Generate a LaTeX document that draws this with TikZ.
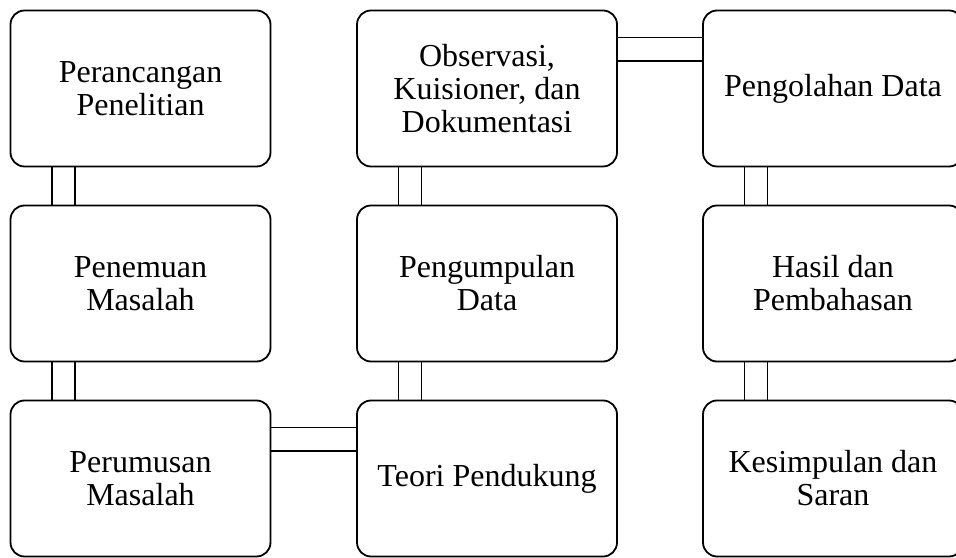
\documentclass[tikz,border=0pt]{standalone}
\usepackage{fontspec}
\setmainfont{Liberation Serif}

\newcommand{\tahapwidth}{260pt}
\newcommand{\tahapheight}{156pt}

\tikzset{
  tahap/.style={draw, line width=1.8pt, rounded corners=14pt,
    minimum width=\tahapwidth, minimum height=\tahapheight,
    align=center, font=\fontsize{32}{33}\selectfont},
  garis/.style={line width=1.8pt}
}

\begin{document}
\begin{tikzpicture}[x=1pt, y=1pt]
				\useasboundingbox (0,0) rectangle (956,557);
				% Define the 9 steps, column by column
				\node [tahap] (rancang) at (140.5, 468.5) {Perancangan\\Penelitian};
				\node [tahap] (temu)    at (140.5, 273.5) {Penemuan\\Masalah};
				\node [tahap] (rumus)   at (140.5, 78.5)  {Perumusan\\Masalah};
				\node [tahap] (obs)     at (487, 468.5)   {Observasi,\\Kuisioner, dan\\Dokumentasi};
				\node [tahap] (kumpul)  at (487, 273.5)   {Pengumpulan\\Data};
				\node [tahap] (teori)   at (487, 78.5)    {Teori Pendukung};
				\node [tahap] (olah)    at (833, 468.5)   {Pengolahan Data};
				\node [tahap] (hasil)   at (833, 273.5)   {Hasil dan\\Pembahasan};
				\node [tahap] (simpul)  at (833, 78.5)    {Kesimpulan dan\\Saran};
				% Draw the vertical double connectors
				\foreach \atas/\bawah in {rancang/temu, temu/rumus, obs/kumpul, kumpul/teori, olah/hasil, hasil/simpul} {
					\draw [garis] ([xshift=-88.5pt]\atas.south) -- ([xshift=-88.5pt]\bawah.north);
					\draw [garis] ([xshift=-65.5pt]\atas.south) -- ([xshift=-65.5pt]\bawah.north);
				}
				% Draw the horizontal double connectors
				\foreach \kiri/\kanan in {rumus/teori, obs/olah} {
					\draw [garis] ([yshift=51pt]\kiri.east) -- ([yshift=51pt]\kanan.west);
					\draw [garis] ([yshift=27.5pt]\kiri.east) -- ([yshift=27.5pt]\kanan.west);
				}
				\end{tikzpicture}
\end{document}
